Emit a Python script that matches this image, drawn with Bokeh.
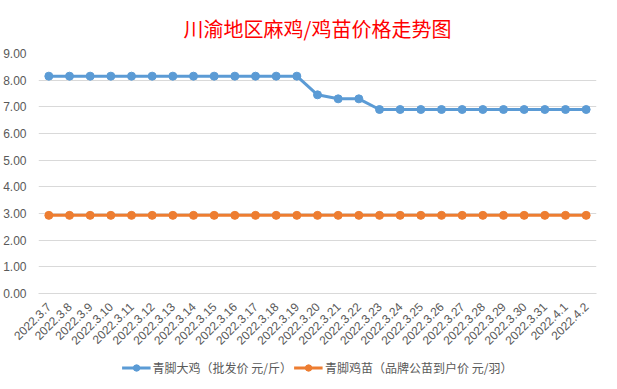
import math
from bokeh.plotting import figure
from bokeh.layouts import column
from bokeh.models import Legend, LegendItem, SingleIntervalTicker, NumeralTickFormatter, Range1d, FactorRange
from bokeh.embed import file_html
from bokeh.resources import INLINE

dates = ["2022.3.7", "2022.3.8", "2022.3.9", "2022.3.10", "2022.3.11", "2022.3.12", "2022.3.13",
         "2022.3.14", "2022.3.15", "2022.3.16", "2022.3.17", "2022.3.18", "2022.3.19", "2022.3.20",
         "2022.3.21", "2022.3.22", "2022.3.23", "2022.3.24", "2022.3.25", "2022.3.26", "2022.3.27",
         "2022.3.28", "2022.3.29", "2022.3.30", "2022.3.31", "2022.4.1", "2022.4.2"]
big_chicken = [8.15] * 13 + [7.45, 7.30, 7.30] + [6.90] * 11
chick = [2.93] * 27
name_big = "青脚大鸡（批发价 元/斤）"
name_chick = "青脚鸡苗（品牌公苗到户价 元/羽）"
title_text = "川渝地区麻鸡/鸡苗价格走势图"

CJK = "Noto Sans CJK SC"
GRAY = "#595959"
BLUE = "#5B9BD5"
ORANGE = "#ED7D31"

p = figure(width=601, height=355, x_range=FactorRange(*dates, range_padding=0),
           y_range=Range1d(0, 9), output_backend="svg", toolbar_location=None,
           min_border_left=38, min_border_right=5, min_border_top=53, min_border_bottom=62)

p.title.text = title_text
p.title.align = "center"
p.title.text_color = "#FF0000"
p.title.text_font = CJK
p.title.text_font_size = "20px"
p.title.text_font_style = "normal"
p.title.standoff = 22

p.outline_line_color = None
p.background_fill_color = "white"
p.border_fill_color = "white"

p.xgrid.grid_line_color = None
p.ygrid.grid_line_color = "#D9D9D9"
p.ygrid.grid_line_width = 1

p.yaxis.ticker = SingleIntervalTicker(interval=1)
p.yaxis.formatter = NumeralTickFormatter(format="0.00")
p.yaxis.axis_line_color = None
p.yaxis.major_tick_line_color = None
p.yaxis.minor_tick_line_color = None
p.yaxis.major_label_text_color = GRAY
p.yaxis.major_label_text_font = "Liberation Sans"
p.yaxis.major_label_text_font_size = "12px"
p.yaxis.major_label_standoff = 6

p.xaxis.axis_line_color = "#D9D9D9"
p.xaxis.major_tick_line_color = None
p.xaxis.minor_tick_line_color = None
p.xaxis.major_label_orientation = math.pi / 4
p.xaxis.major_label_text_color = GRAY
p.xaxis.major_label_text_font = "Liberation Sans"
p.xaxis.major_label_text_font_size = "12px"
p.xaxis.major_label_standoff = 5

p.line(dates, big_chicken, line_color=BLUE, line_width=3)
p.scatter(dates, big_chicken, size=8, fill_color=BLUE, line_color=BLUE)
p.line(dates, chick, line_color=ORANGE, line_width=3)
p.scatter(dates, chick, size=8, fill_color=ORANGE, line_color=ORANGE)

# legend strip: same series, drawn outside its visible range so only the legend glyphs show
lg = figure(width=601, height=24, output_backend="svg", toolbar_location=None,
            x_axis_type=None, y_axis_type=None, min_border=0,
            x_range=FactorRange(*dates, range_padding=0), y_range=Range1d(100, 101))
lg.outline_line_color = None
lg.grid.grid_line_color = None
lg.border_fill_color = "white"
lg.background_fill_color = "white"
k1 = lg.line(dates, big_chicken, line_color=BLUE, line_width=3)
c1 = lg.scatter(dates, big_chicken, size=8, fill_color=BLUE, line_color=BLUE)
k2 = lg.line(dates, chick, line_color=ORANGE, line_width=3)
c2 = lg.scatter(dates, chick, size=8, fill_color=ORANGE, line_color=ORANGE)

legend = Legend(items=[LegendItem(label=name_big, renderers=[k1, c1]),
                       LegendItem(label=name_chick, renderers=[k2, c2])],
                orientation="horizontal", location="center",
                border_line_color=None, background_fill_alpha=0,
                label_text_font=CJK, label_text_font_size="12px", label_text_color=GRAY,
                glyph_width=29, glyph_height=16, label_height=16, label_standoff=2,
                spacing=2, padding=0, margin=0)
lg.add_layout(legend, "center")

layout = column(p, lg, spacing=0)
open("out.html", "w").write(file_html(layout, INLINE))
